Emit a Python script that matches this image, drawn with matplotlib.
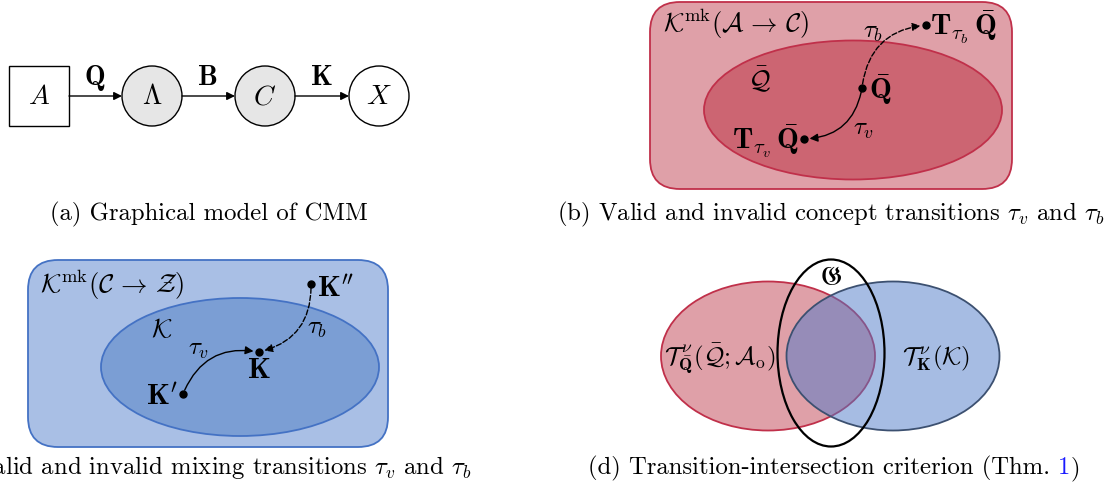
import matplotlib
matplotlib.use("Agg")
import matplotlib.pyplot as plt
from matplotlib.patches import Ellipse, Circle, Rectangle, FancyBboxPatch, FancyArrowPatch

plt.rcParams['mathtext.fontset'] = 'cm'
plt.rcParams['font.family'] = 'cmr10'
plt.rcParams['axes.unicode_minus'] = False

# labels
nodes_a = [r'$A$', r'$\Lambda$', r'$C$', r'$X$']
edges_a = [r'$\mathbf{Q}$', r'$\mathbf{B}$', r'$\mathbf{K}$']
captions = [
    '(a) Graphical model of CMM',
    r'(b) Valid and invalid concept transitions $\tau_v$ and $\tau_b$',
    r'(c) Valid and invalid mixing transitions $\tau_v$ and $\tau_b$',
]
cap_d = ['(d) Transition-intersection criterion (Thm. ', '1', ')']

red_light = '#dfa0a8'
red_dark = '#cc6572'
red_edge = '#c0304a'
blue_light = '#a9bfe5'
blue_dark = '#7b9ed4'
blue_edge = '#4472c4'

CAP = 17.8
BOLD = 21
MATH = 19
TAU = 18

fig = plt.figure(figsize=(11.07, 4.89), dpi=100)
ax = fig.add_axes([0, 0, 1, 1])
ax.set_xlim(0, 1107)
ax.set_ylim(489, 0)
ax.axis('off')

def arrow(p0, p1, style='-', cs='arc3', sa=2, sb=2):
    a = FancyArrowPatch(p0, p1, connectionstyle=cs, arrowstyle='-|>',
                        mutation_scale=12, lw=1.0, color='black',
                        linestyle=style, shrinkA=sa, shrinkB=sb, zorder=5)
    ax.add_patch(a)

# ---- (a) graphical model
ax.add_patch(Rectangle((9, 67), 60, 60, fc='white', ec='black', lw=1))
xs = [39, 152, 265, 379]
fills = ['white', '#e6e6e6', '#e6e6e6', 'white']
for i in range(1, 4):
    ax.add_patch(Circle((xs[i], 97), 30, fc=fills[i], ec='black', lw=1))
for x, s in zip(xs, nodes_a):
    ax.text(x, 97, s, fontsize=20, ha='center', va='center')
starts = [69, 182, 295]
for i in range(3):
    arrow((starts[i], 97), (xs[i + 1] - 30, 97), sa=0, sb=0)
    ax.text((starts[i] + xs[i + 1] - 30) / 2 - 1, 85, edges_a[i], fontsize=20,
            ha='center', va='baseline')

ax.text(50, 220, captions[0], fontsize=CAP, ha='left', va='baseline')

# ---- (b) concept transitions
ax.add_patch(FancyBboxPatch((650, 3), 362, 187, boxstyle='round,pad=0,rounding_size=30',
                            fc=red_light, ec=red_edge, lw=1.3))
ax.add_patch(Ellipse((853, 111), 298, 139, fc=red_dark, ec=red_edge, lw=1.3))
ax.text(663, 32, r'$\mathcal{K}^{\mathrm{mk}}(\mathcal{A}\,\rightarrow\,\mathcal{C})$',
        fontsize=MATH, ha='left', va='baseline')
ax.text(759, 88, r'$\bar{\mathcal{Q}}$', fontsize=MATH, ha='center', va='baseline')
qb = (862, 89)
tv = (804, 140)
tb = (926, 26)
ax.plot(*zip(qb, tv, tb), 'o', color='black', ms=5, zorder=6)
ax.text(869, 99, r'$\bar{\mathbf{Q}}$', fontsize=BOLD, ha='left', va='baseline')
ax.text(799, 150, r'$\mathbf{T}_{\tau_v}\,\bar{\mathbf{Q}}$', fontsize=BOLD, ha='right', va='baseline')
ax.text(930, 36, r'$\mathbf{T}_{\tau_b}\,\bar{\mathbf{Q}}$', fontsize=BOLD, ha='left', va='baseline')
arrow(qb, tv, cs='arc3,rad=-0.4', sa=3, sb=4)
arrow(qb, tb, style='--', cs='arc3,rad=-0.4', sa=3, sb=4)
ax.text(873, 38, r'$\tau_b$', fontsize=TAU, ha='center', va='baseline')
ax.text(864, 135, r'$\tau_v$', fontsize=TAU, ha='center', va='baseline')

ax.text(557, 220, captions[1], fontsize=CAP, ha='left', va='baseline')

# ---- (c) mixing transitions
ax.add_patch(FancyBboxPatch((28, 261), 360, 187, boxstyle='round,pad=0,rounding_size=30',
                            fc=blue_light, ec=blue_edge, lw=1.3))
ax.add_patch(Ellipse((240, 368), 278, 138, fc=blue_dark, ec=blue_edge, lw=1.3))
ax.text(40, 293, r'$\mathcal{K}^{\mathrm{mk}}(\mathcal{C}\,\rightarrow\,\mathcal{Z})$',
        fontsize=MATH, ha='left', va='baseline')
ax.text(162, 337, r'$\mathcal{K}$', fontsize=MATH, ha='center', va='baseline')
k2 = (311, 285)
k0 = (259, 353)
k1 = (183, 395)
ax.plot(*zip(k2, k0, k1), 'o', color='black', ms=5, zorder=6)
ax.text(317, 297, r"$\mathbf{K}''$", fontsize=BOLD, ha='left', va='baseline')
ax.text(259, 378, r'$\mathbf{K}$', fontsize=BOLD, ha='center', va='baseline')
ax.text(178, 405, r"$\mathbf{K}'$", fontsize=BOLD, ha='right', va='baseline')
arrow(k1, k0, cs='arc3,rad=-0.4', sa=3, sb=4)
arrow(k2, k0, style='--', cs='arc3,rad=-0.4', sa=3, sb=4)
ax.text(199, 355, r'$\tau_v$', fontsize=TAU, ha='center', va='baseline')
ax.text(317, 334, r'$\tau_b$', fontsize=TAU, ha='center', va='baseline')

ax.text(472, 474, captions[2], fontsize=CAP, ha='right', va='baseline')

# ---- (d) intersection
ax.add_patch(Ellipse((768, 357), 214, 149, fc=red_light, ec=red_edge, lw=1.3))
ax.add_patch(Ellipse((893, 357), 213, 149, fc='#4f7ac8', alpha=0.5, ec='none'))
ax.add_patch(Ellipse((893, 357), 213, 149, fc='none', ec='#3c5070', lw=1.3))
ax.add_patch(Ellipse((831, 354), 107, 187, fc='none', ec='black', lw=1.6))
ax.text(720, 364, r'$\mathcal{T}^{\,\nu}_{\bar{\mathbf{Q}}}(\bar{\mathcal{Q}};\mathcal{A}_{\mathrm{o}})$',
        fontsize=MATH - 1, ha='center', va='baseline')
ax.text(936, 364, r'$\mathcal{T}^{\,\nu}_{\mathbf{K}}(\mathcal{K})$',
        fontsize=MATH - 1, ha='center', va='baseline')
ax.text(831, 285, r'$\mathfrak{G}$', fontsize=MATH, ha='center', va='baseline')

fig.canvas.draw()
r = fig.canvas.get_renderer()
x0 = 588
probe = ax.text(x0, 474, cap_d[0] + cap_d[1], fontsize=CAP, ha='left', va='baseline', alpha=0)
x1 = probe.get_window_extent(r).x1
ax.text(x0, 474, cap_d[0], fontsize=CAP, ha='left', va='baseline')
ax.text(x1, 474, cap_d[1], fontsize=CAP, ha='right', va='baseline', color='#1a1aff')
ax.text(x1, 474, cap_d[2], fontsize=CAP, ha='left', va='baseline')

fig.savefig('out.png', dpi=100)
